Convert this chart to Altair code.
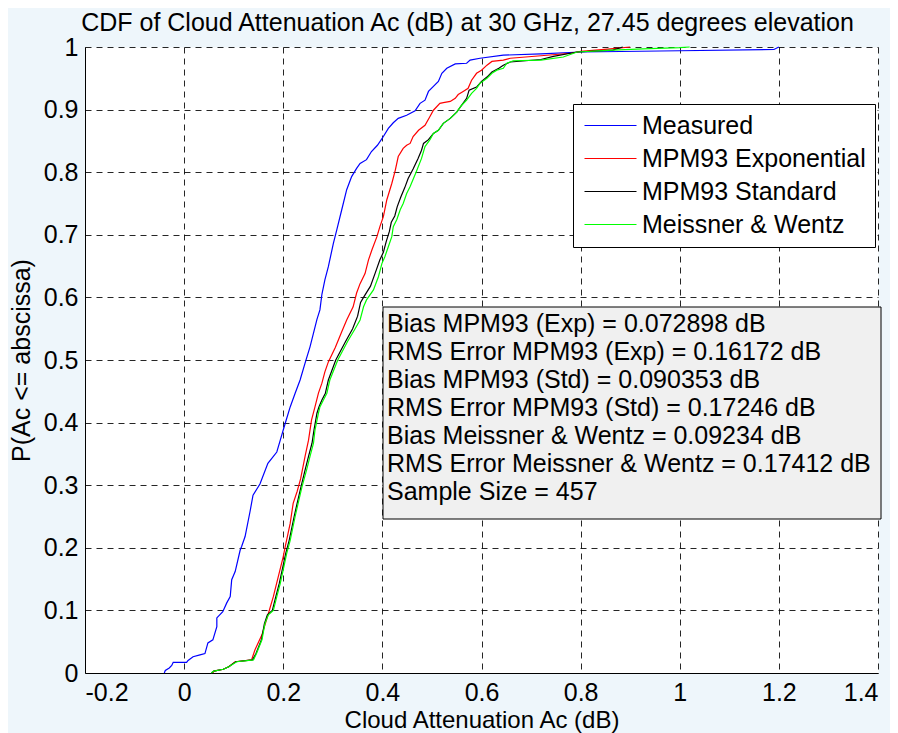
import altair as alt
import pandas as pd

FONT = "Liberation Sans"

series_names = ["Measured", "MPM93 Exponential", "MPM93 Standard", "Meissner & Wentz"]
series_colors = ["#0000ff", "#ff0000", "#000000", "#00ff00"]

measured = [(-0.04, 0.0), (-0.038, 0.004), (-0.03, 0.008), (-0.025, 0.012), (-0.022, 0.017),
            (0.005, 0.017), (0.008, 0.02), (0.018, 0.026), (0.032, 0.029), (0.042, 0.031),
            (0.048, 0.048), (0.058, 0.053), (0.066, 0.074), (0.066, 0.088), (0.078, 0.098),
            (0.086, 0.112), (0.093, 0.122), (0.096, 0.149), (0.103, 0.162), (0.113, 0.196),
            (0.116, 0.202), (0.123, 0.218), (0.133, 0.258), (0.139, 0.284), (0.153, 0.302),
            (0.169, 0.335), (0.187, 0.353), (0.194, 0.372), (0.204, 0.399), (0.214, 0.425),
            (0.224, 0.447), (0.234, 0.468), (0.244, 0.495), (0.254, 0.521), (0.261, 0.543),
            (0.268, 0.565), (0.274, 0.58), (0.278, 0.605), (0.284, 0.628), (0.291, 0.649),
            (0.301, 0.686), (0.308, 0.708), (0.318, 0.74), (0.328, 0.772), (0.338, 0.793),
            (0.348, 0.806), (0.355, 0.814), (0.368, 0.82), (0.378, 0.833), (0.39, 0.843),
            (0.402, 0.857), (0.412, 0.87), (0.422, 0.879), (0.432, 0.886), (0.449, 0.891),
            (0.466, 0.898), (0.476, 0.91), (0.486, 0.915), (0.493, 0.929), (0.503, 0.937),
            (0.513, 0.945), (0.52, 0.958), (0.53, 0.966), (0.547, 0.973), (0.57, 0.974),
            (0.577, 0.979), (0.597, 0.982), (0.644, 0.987), (0.72, 0.989), (0.8, 0.992),
            (1.0, 0.994), (1.19, 0.996), (1.2, 1.0)]

mpm93_exp = [(0.058, 0.0), (0.06, 0.003), (0.079, 0.006), (0.09, 0.01), (0.103, 0.018),
             (0.136, 0.021), (0.143, 0.037), (0.157, 0.061), (0.17, 0.095), (0.18, 0.122),
             (0.19, 0.154), (0.2, 0.186), (0.204, 0.202), (0.214, 0.239), (0.22, 0.271),
             (0.228, 0.29), (0.235, 0.31), (0.244, 0.346), (0.251, 0.372), (0.257, 0.404),
             (0.264, 0.425), (0.271, 0.447), (0.278, 0.463), (0.284, 0.481), (0.291, 0.497),
             (0.305, 0.52), (0.318, 0.545), (0.328, 0.564), (0.341, 0.585), (0.348, 0.607),
             (0.355, 0.622), (0.365, 0.638), (0.372, 0.66), (0.379, 0.676), (0.389, 0.697),
             (0.395, 0.713), (0.402, 0.729), (0.409, 0.756), (0.419, 0.782), (0.426, 0.803),
             (0.432, 0.825), (0.442, 0.838), (0.449, 0.843), (0.456, 0.846), (0.462, 0.857),
             (0.473, 0.867), (0.486, 0.875), (0.496, 0.889), (0.503, 0.899), (0.516, 0.91),
             (0.523, 0.911), (0.537, 0.913), (0.547, 0.918), (0.553, 0.924), (0.563, 0.929),
             (0.573, 0.934), (0.58, 0.947), (0.59, 0.958), (0.6, 0.963), (0.611, 0.971),
             (0.621, 0.977), (0.644, 0.979), (0.658, 0.982), (0.72, 0.986), (0.78, 0.99),
             (0.8, 0.993), (0.86, 0.997), (0.9, 1.0)]

mpm93_std = [(0.055, 0.0), (0.06, 0.003), (0.079, 0.006), (0.09, 0.01), (0.104, 0.018),
             (0.138, 0.021), (0.145, 0.031), (0.156, 0.053), (0.162, 0.079), (0.168, 0.093),
             (0.178, 0.1), (0.185, 0.122), (0.192, 0.143), (0.198, 0.165), (0.205, 0.191),
             (0.212, 0.212), (0.222, 0.25), (0.228, 0.271), (0.236, 0.298), (0.244, 0.324),
             (0.251, 0.346), (0.258, 0.367), (0.262, 0.388), (0.268, 0.415), (0.272, 0.425),
             (0.278, 0.436), (0.285, 0.447), (0.291, 0.468), (0.306, 0.5), (0.326, 0.53),
             (0.34, 0.55), (0.35, 0.57), (0.356, 0.592), (0.362, 0.6), (0.376, 0.618),
             (0.386, 0.64), (0.395, 0.66), (0.402, 0.672), (0.408, 0.69), (0.414, 0.705),
             (0.418, 0.72), (0.425, 0.73), (0.43, 0.745), (0.437, 0.76), (0.445, 0.775),
             (0.452, 0.79), (0.462, 0.805), (0.472, 0.822), (0.479, 0.835), (0.483, 0.846),
             (0.493, 0.852), (0.503, 0.862), (0.513, 0.867), (0.523, 0.878), (0.537, 0.886),
             (0.55, 0.896), (0.56, 0.907), (0.57, 0.918), (0.575, 0.931), (0.59, 0.936),
             (0.6, 0.945), (0.611, 0.952), (0.621, 0.96), (0.635, 0.966), (0.644, 0.971),
             (0.658, 0.976), (0.72, 0.98), (0.745, 0.985), (0.793, 0.992), (0.865, 0.995),
             (0.885, 1.0)]

meissner_wentz = [(0.055, 0.0), (0.06, 0.003), (0.079, 0.006), (0.09, 0.01), (0.106, 0.018),
                  (0.14, 0.021), (0.146, 0.031), (0.157, 0.053), (0.163, 0.079), (0.17, 0.093),
                  (0.18, 0.1), (0.187, 0.122), (0.194, 0.143), (0.2, 0.165), (0.207, 0.191),
                  (0.214, 0.212), (0.224, 0.25), (0.23, 0.271), (0.238, 0.298), (0.247, 0.324),
                  (0.254, 0.346), (0.261, 0.367), (0.264, 0.388), (0.271, 0.415), (0.274, 0.425),
                  (0.281, 0.436), (0.288, 0.447), (0.294, 0.468), (0.31, 0.5), (0.33, 0.53),
                  (0.345, 0.55), (0.355, 0.564), (0.362, 0.585), (0.368, 0.596), (0.382, 0.612),
                  (0.392, 0.633), (0.399, 0.654), (0.405, 0.665), (0.412, 0.681), (0.419, 0.697),
                  (0.422, 0.713), (0.429, 0.724), (0.436, 0.74), (0.442, 0.75), (0.449, 0.766),
                  (0.456, 0.777), (0.468, 0.8), (0.479, 0.822), (0.486, 0.841), (0.496, 0.852),
                  (0.503, 0.862), (0.513, 0.867), (0.523, 0.878), (0.537, 0.886), (0.55, 0.896),
                  (0.56, 0.907), (0.57, 0.915), (0.58, 0.926), (0.59, 0.934), (0.597, 0.942),
                  (0.611, 0.95), (0.621, 0.958), (0.631, 0.963), (0.644, 0.966), (0.651, 0.974),
                  (0.664, 0.978), (0.72, 0.979), (0.765, 0.984), (0.793, 0.992), (0.865, 0.995),
                  (0.926, 0.997), (1.0, 0.999), (1.02, 1.0)]

x_ticks = [-0.2, 0, 0.2, 0.4, 0.6, 0.8, 1, 1.2, 1.4]
y_ticks = [0, 0.1, 0.2, 0.3, 0.4, 0.5, 0.6, 0.7, 0.8, 0.9, 1]

stats_lines = [
    "Bias MPM93 (Exp) = 0.072898 dB",
    "RMS Error MPM93 (Exp) = 0.16172 dB",
    "Bias MPM93 (Std) = 0.090353 dB",
    "RMS Error MPM93 (Std) = 0.17246 dB",
    "Bias Meissner & Wentz = 0.09234 dB",
    "RMS Error Meissner & Wentz = 0.17412 dB",
    "Sample Size = 457",
]

title_text = "CDF of Cloud Attenuation Ac (dB) at 30 GHz, 27.45 degrees elevation"

rows = []
for name, pts in zip(series_names, [measured, mpm93_exp, mpm93_std, meissner_wentz]):
    for i, (x, y) in enumerate(pts):
        rows.append({"series": name, "x": x, "p": y, "idx": i})
df = pd.DataFrame(rows)

W, H = 793, 626
FS = 25
label_expr = "datum.value < 0 ? '-' + format(-datum.value, '~g') : format(datum.value, '~g')"

lines = alt.Chart(df).mark_line(strokeWidth=1.2).encode(
    x=alt.X("x:Q", scale=alt.Scale(domain=[-0.2, 1.4], nice=False, zero=False),
            axis=alt.Axis(values=x_ticks, labelExpr=label_expr, title="Cloud Attenuation Ac (dB)",
                          titleBaseline="alphabetic", titleY=54, titleFontSize=24,
                          labelPadding=7)),
    y=alt.Y("p:Q", scale=alt.Scale(domain=[0, 1], nice=False),
            axis=alt.Axis(values=y_ticks, labelExpr=label_expr, title="P(Ac <= abscissa)",
                          titlePadding=9, labelPadding=7)),
    color=alt.Color("series:N",
                    scale=alt.Scale(domain=series_names, range=series_colors),
                    sort=series_names,
                    legend=alt.Legend(title=None, orient="none", legendX=488, legendY=57,
                                      fillColor="white", strokeColor="black", padding=9,
                                      labelFontSize=FS, labelFont=FONT, labelColor="black",
                                      symbolType="M-1,0L4.2,0", symbolSize=400,
                                      symbolStrokeWidth=1, labelOffset=35, rowPadding=7,
                                      labelLimit=400)),
    order="idx:Q",
)

one = pd.DataFrame({"k": [0]})
box = alt.Chart(one).mark_rect(fill="#f0f0f0", stroke="black", strokeWidth=1).encode(
    x=alt.value(298), x2=alt.value(796), y=alt.value(260), y2=alt.value(472)
)
stats = alt.Chart(one).mark_text(
    align="left", baseline="top", fontSize=FS, lineHeight=28, font=FONT, color="black",
    text=stats_lines,
).encode(x=alt.value(302), y=alt.value(265))

chart = alt.layer(lines, box, stats).properties(
    width=W, height=H,
    title=alt.TitleParams(title_text, fontSize=FS, font=FONT, fontWeight="normal",
                          color="black", offset=10, dx=-14, dy=11),
    autosize=alt.AutoSizeParams(type="none"),
    padding={"left": 77, "top": 39, "right": 12, "bottom": 60},
    background="#eef6fb",
).configure_view(
    stroke="transparent", fill="white"
).configure_axis(
    grid=True, gridColor="black", gridDash=[6, 5], gridWidth=1, gridOpacity=0.85,
    domainColor="black", domainWidth=1, ticks=False, tickSize=0,
    labelFont=FONT, labelFontSize=FS, labelColor="black",
    titleFont=FONT, titleFontSize=FS, titleColor="black", titleFontWeight="normal",
)

chart.save("out.html", embed_options={"renderer": "svg", "actions": False})
